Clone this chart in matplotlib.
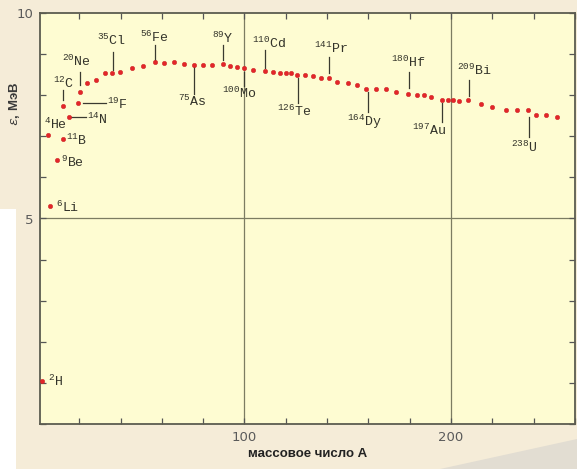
import matplotlib
matplotlib.use("Agg")
import matplotlib.pyplot as plt
from matplotlib.patches import Rectangle, Polygon
from matplotlib.ticker import MultipleLocator, FixedLocator

plt.rcParams['mathtext.fontset'] = 'custom'
plt.rcParams['mathtext.rm'] = 'Liberation Mono'
plt.rcParams['mathtext.it'] = 'Liberation Mono:italic'

# binding energy per nucleon, MeV
mass_number = [
    2, 6, 9, 5, 12, 12, 15, 19.3, 20.3, 23.7, 28, 32.3, 35.7, 39.6, 45.4, 51,
    56.5, 61, 65.7, 70.5, 75.4, 79.7, 84.5, 89.4, 93.2, 96.6, 100, 104, 109.7,
    113.6, 117, 120, 122.5, 125.6, 129.3, 133, 137, 141, 145, 150, 154.5, 159,
    163.7, 168.6, 173.5, 179, 183.6, 187, 190.3, 195.7, 198.6, 201, 203.9,
    208.2, 214.5, 219.8, 226.6, 231.9, 237.2, 241, 245.9, 251.2,
]
energy = [
    1.05, 5.31, 6.43, 7.04, 6.94, 7.73, 7.46, 7.82, 8.07, 8.29, 8.36, 8.53,
    8.53, 8.56, 8.65, 8.70, 8.80, 8.78, 8.80, 8.75, 8.73, 8.73, 8.73, 8.75,
    8.70, 8.68, 8.66, 8.61, 8.58, 8.56, 8.53, 8.53, 8.53, 8.50, 8.48, 8.46,
    8.43, 8.43, 8.32, 8.30, 8.26, 8.16, 8.16, 8.16, 8.07, 8.04, 8.01, 8.00,
    7.95, 7.89, 7.89, 7.89, 7.87, 7.89, 7.78, 7.71, 7.65, 7.63, 7.63, 7.53,
    7.51, 7.48,
]

# nuclide labels: text, text position (A, eps), leader line (A, eps0, eps1) or None
nuclide_labels = [
    ('2', 'H', (4.8, 1.03), None),
    ('6', 'Li', (8.7, 5.28), None),
    ('9', 'Be', (11.1, 6.36), None),
    ('11', 'B', (13.5, 6.90), None),
    ('4', 'He', (2.9, 7.29), None),
    ('12', 'C', (7.2, 8.29), (12.0, 8.12, 7.88)),
    ('20', 'Ne', (11.6, 8.83), (20.3, 8.56, 8.24)),
    ('35', 'Cl', (28.5, 9.34), (36.2, 9.05, 8.61)),
    ('56', 'Fe', (49.3, 9.41), (56.5, 9.22, 8.85)),
    ('75', 'As', (67.6, 7.85), (75.4, 8.68, 8.04)),
    ('89', 'Y', (84.5, 9.39), (89.4, 9.22, 8.85)),
    ('100', 'Mo', (88.9, 8.04), (100.0, 8.56, 8.22)),
    ('110', 'Cd', (103.4, 9.27), (109.7, 9.10, 8.66)),
    ('126', 'Te', (115.5, 7.60), (126.1, 8.41, 7.82)),
    ('141', 'Pr', (133.8, 9.14), (141.0, 8.92, 8.53)),
    ('164', 'Dy', (149.8, 7.36), (159.9, 8.07, 7.58)),
    ('180', 'Hf', (171.0, 8.80), (179.7, 8.56, 8.17)),
    ('197', 'Au', (181.2, 7.14), (195.7, 7.80, 7.36)),
    ('209', 'Bi', (202.9, 8.61), (208.7, 8.36, 7.97)),
    ('238', 'U', (229.0, 6.72), (237.7, 7.48, 6.99)),
]
# horizontal leaders for N and F: text, position, (A0, A1, eps)
side_labels = [
    ('14', 'N', (23.7, 7.41), (15.5, 23.2, 7.46)),
    ('19', 'F', (33.3, 7.78), (21.7, 32.9, 7.80)),
]

fig = plt.figure(figsize=(5.77, 4.69), dpi=100, facecolor='#f5ecd8')
fig.patches.append(Rectangle((0, 0), 16 / 577, 1 - 209 / 469, transform=fig.transFigure,
                             facecolor='white', edgecolor='none', zorder=0))
fig.patches.append(Polygon([(440 / 577, 0), (1, 30 / 469), (1, 0)], closed=True,
                           transform=fig.transFigure, facecolor='#e2ddd2',
                           edgecolor='none', zorder=0))

ax = fig.add_axes([40 / 577, 45 / 469, 535 / 577, 411 / 469])
ax.set_facecolor('#fefcd2')
ax.set_xlim(1, 260)
ax.set_ylim(0, 10)

ax.xaxis.set_major_locator(FixedLocator([100, 200]))
ax.xaxis.set_minor_locator(MultipleLocator(20))
ax.yaxis.set_major_locator(FixedLocator([5, 10]))
ax.yaxis.set_minor_locator(MultipleLocator(1))
ax.tick_params(which='both', direction='in', top=True, right=True,
               color='#555555', width=0.9)
ax.tick_params(which='major', length=4, labelsize=9.5, labelcolor='#5a5a5a', pad=5)
ax.tick_params(which='minor', length=4)
for s in ax.spines.values():
    s.set_color('#5c5c50')
    s.set_linewidth(1.3)

for x in (100, 200):
    ax.axvline(x, color='#7c7c62', lw=0.9, zorder=1)
ax.axhline(5, color='#7c7c62', lw=0.9, zorder=1)

ax.plot(mass_number, energy, linestyle='none', marker='o', ms=3.2,
        color='#e3262a', mec='#c81e1e', mew=0.3, zorder=3, clip_on=False)

txt_color = '#33332a'
for mass, sym, (tx, ty), lead in nuclide_labels:
    ax.text(tx, ty, r'$\mathrm{^{%s}%s}$' % (mass, sym), fontsize=9.5,
            color=txt_color, ha='left', va='center', zorder=4)
    if lead is not None:
        ax.plot([lead[0], lead[0]], [lead[1], lead[2]], color='#3a3a30', lw=0.9, zorder=2)

for mass, sym, (tx, ty), (a0, a1, ey) in side_labels:
    ax.text(tx, ty, r'$\mathrm{^{%s}%s}$' % (mass, sym), fontsize=9.5,
            color=txt_color, ha='left', va='center', zorder=4)
    ax.plot([a0, a1], [ey, ey], color='#3a3a30', lw=0.9, zorder=2)

ax.set_xlabel('массовое число А', fontsize=9.5, fontweight='bold',
              family='Liberation Sans', color='#222222', labelpad=3)
fig.text(15 / 577, 1 - 104 / 469, r'$\varepsilon$, МэВ', rotation=90, fontsize=9.5,
         fontweight='bold', family='Liberation Sans', color='#3a3a3a',
         ha='center', va='center')

fig.savefig('out.png', dpi=100, facecolor=fig.get_facecolor())
